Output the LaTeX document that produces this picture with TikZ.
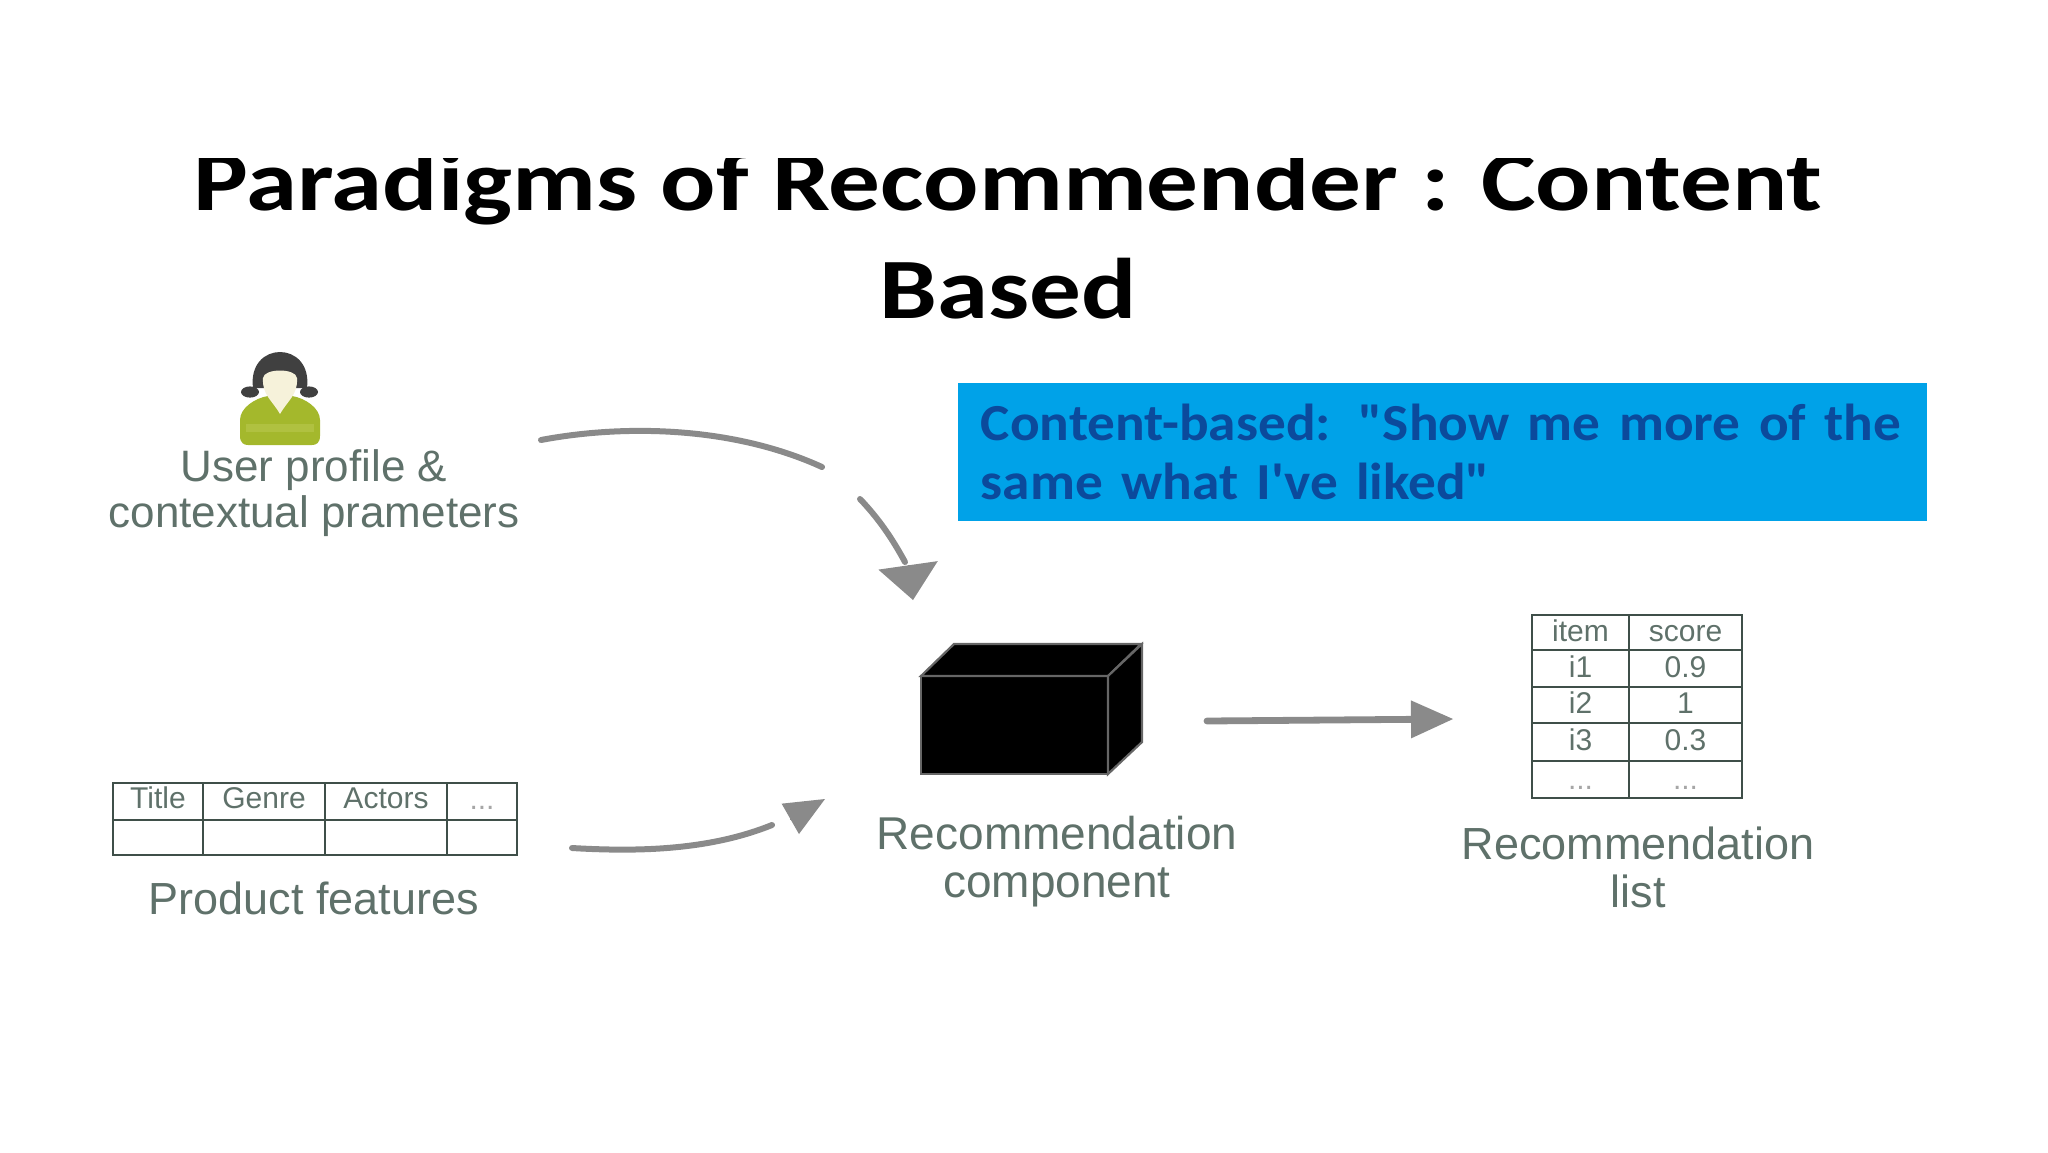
\documentclass[tikz,border=0pt]{standalone}
\usepackage{fontspec}
\usepackage{graphicx}
\setmainfont{Liberation Sans}
\newfontfamily\calibrifont{Carlito}
\usetikzlibrary{positioning,arrows.meta,calc}
\definecolor{labelgray}{HTML}{5F716A}
\definecolor{linegray}{HTML}{3F4F49}
\definecolor{flowgray}{HTML}{8A8A8A}
\definecolor{boxblue}{HTML}{00A2E8}
\definecolor{boxtext}{HTML}{0B4A9C}
\definecolor{shirt}{HTML}{A4B82C}
\definecolor{shirtlight}{HTML}{B0C140}
\definecolor{face}{HTML}{F6F2DA}
\tikzset{
	label text/.style={text=labelgray,align=center,inner sep=0pt,font=\fontsize{22.5}{24}\selectfont},
	title text/.style={anchor=base,inner sep=0pt,font=\calibrifont\bfseries\fontsize{43}{54}\selectfont},
	cell/.style={draw=linegray,line width=1.3pt,outer sep=0pt,inner sep=0pt,text=labelgray,text height=11pt,text depth=2.5pt,font=\fontsize{15}{15}\selectfont},
	prod cell/.style={cell,text depth=4pt},
	dots cell/.style={cell,text=black!35,text depth=1pt},
	flow/.style={draw=flowgray,line width=3pt,line cap=round},
	cube face/.style={fill=black,draw=black!60,line width=1.1pt}
}

\begin{document}
\begin{tikzpicture}[x=.5pt,y=-.5pt]
	\useasboundingbox (0,0) rectangle (2048,1152);
	
	%% Title
	\begin{scope}
	\clip (0,158) rectangle (2048,250);
	\node (Title) [title text] at (1008,210) 
	{\scalebox{1.2}[1]{Paradigms of Recommender : Content}};
	\end{scope}
	\node (TitleB) [title text] at (1008,318) 
	{\scalebox{1.2}[1]{Based}};
	
	%% Quote box
	\node (Quote) [fill=boxblue,text=boxtext,anchor=north west,minimum width=484.5pt,minimum height=69pt,
	text width=462pt,align=left,inner sep=0pt,font=\calibrifont\bfseries\fontsize{26}{29.5}\selectfont] at (958,383) 
	{\scalebox{1.063}[1]{Content-based: "Show me more of the}\\\scalebox{1.063}[1]{same what I've liked"}};
	
	%% User
	\fill[black!75] (250,392) circle [x radius=4.5pt,y radius=2.8pt];
	\fill[black!75] (309,392) circle [x radius=4.5pt,y radius=2.8pt];
	\fill[shirt] (240,436) -- (240,420) .. controls (240,408) and (255,398) .. (268,396) -- (292,396) .. controls (305,398) and (320,408) .. (320,420) -- (320,436) .. controls (320,443) and (316,445) .. (312,445) -- (248,445) .. controls (244,445) and (240,443) .. cycle;
	\fill[shirtlight] (246,424) rectangle (314,432);
	\fill[black!75] (253,388) .. controls (247,340) and (313,340) .. (307,388) -- cycle;
	\fill[face] (263,378) .. controls (262,395) and (272,400) .. (280,414) .. controls (288,400) and (298,395) .. (297,378) .. controls (296,368) and (264,368) .. cycle;
	\node (User) [label text,font=\fontsize{22}{23}\selectfont] at (314,493) 
	{User profile \&\\contextual prameters};
	
	%% Product features
	\node (prodTitle) [prod cell,anchor=north west,minimum width=45pt,minimum height=18.5pt] at (113,783) {Title};
	\node (prodGenre) [prod cell,right=0pt of prodTitle,minimum width=61pt,minimum height=18.5pt] {Genre};
	\node (prodActors) [prod cell,right=0pt of prodGenre,minimum width=61pt,minimum height=18.5pt] {Actors};
	\node (prodMore) [dots cell,text depth=3pt,right=0pt of prodActors,minimum width=35pt,minimum height=18.5pt] {...};
	\node (prodA) [cell,below=0pt of prodTitle,minimum width=45pt,minimum height=17.5pt] {};
	\node (prodB) [cell,below=0pt of prodGenre,minimum width=61pt,minimum height=17.5pt] {};
	\node (prodC) [cell,below=0pt of prodActors,minimum width=61pt,minimum height=17.5pt] {};
	\node (prodD) [cell,below=0pt of prodMore,minimum width=35pt,minimum height=17.5pt] {};
	\node (Product) [label text,anchor=north] at (314,881) 
	{Product features};
	
	%% Component
	\node (Comp) [fill=black,draw=black!60,line width=1.1pt,outer sep=0pt,anchor=north west,minimum width=93.5pt,minimum height=49pt] at (921,676) {};
	\filldraw[cube face] (Comp.north west) -- ++(33,-32) -- ++(187,0) -- (Comp.north east) -- cycle;
	\filldraw[cube face] (Comp.north east) -- ++(34,-32) -- ++(0,98) -- (Comp.south east) -- cycle;
	\node (CompText) [label text,font=\fontsize{23}{24}\selectfont] at (1057,862) 
	{Recommendation\\component};
	
	%% Recommendation list
	\node (listItem) [cell,anchor=north west,minimum width=48.5pt,minimum height=17.5pt] at (1532,615) {item};
	\node (listScore) [cell,right=0pt of listItem,minimum width=56.5pt,minimum height=17.5pt] {score};
	\node (listA) [cell,below=0pt of listItem,minimum width=48.5pt,minimum height=18.5pt] {i1};
	\node (scoreA) [cell,below=0pt of listScore,minimum width=56.5pt,minimum height=18.5pt] {0.9};
	\node (listB) [cell,below=0pt of listA,minimum width=48.5pt,minimum height=18pt] {i2};
	\node (scoreB) [cell,below=0pt of scoreA,minimum width=56.5pt,minimum height=18pt] {1};
	\node (listC) [cell,below=0pt of listB,minimum width=48.5pt,minimum height=19pt] {i3};
	\node (scoreC) [cell,below=0pt of scoreB,minimum width=56.5pt,minimum height=19pt] {0.3};
	\node (listD) [dots cell,below=0pt of listC,minimum width=48.5pt,minimum height=18.5pt] {...};
	\node (scoreD) [dots cell,below=0pt of scoreC,minimum width=56.5pt,minimum height=18.5pt] {...};
	\node (ListText) [label text] at (1638,867) 
	{Recommendation\\list};
	
	%% Connectors
	\coordinate (userOut) at (541,440);
	\coordinate (userBreak) at (822,467);
	\coordinate (userResume) at (860,499);
	\coordinate (userEnd) at (905,562);
	\coordinate (userBase) at (908,565);
	\coordinate (userTip) at (913,600);
	\draw[flow] (userOut) .. controls (620,425) and (730,425) .. (userBreak);
	\draw[flow] (userResume) .. controls (880,520) and (893,540) .. (userEnd);
	\draw[line width=0pt,draw=flowgray,-{Triangle[length=17.5pt,width=30pt,fill=flowgray]}] (userBase) -- (userTip);
	
	\coordinate (prodOut) at (572,848);
	\coordinate (prodEnd) at (772,825);
	\coordinate (prodBase) at (790,819);
	\coordinate (prodTip) at (825,799);
	\draw[flow] (prodOut) .. controls (640,852) and (710,850) .. (prodEnd);
	\draw[line width=0pt,draw=flowgray,-{Triangle[length=20pt,width=17.5pt,fill=flowgray]}] (prodBase) -- (prodTip);
	
	\coordinate (compOut) at (1207,721);
	\coordinate (listIn) at (1453,719);
	\draw[flow,line width=3.4pt,-{Triangle[length=21pt,width=19pt,fill=flowgray,line width=0pt]}] (compOut) -- (listIn);
\end{tikzpicture}
\end{document}
